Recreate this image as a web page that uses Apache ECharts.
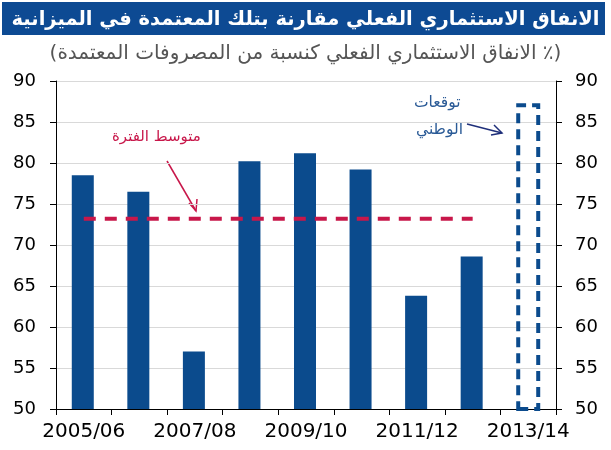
<!DOCTYPE html>
<html>
<head>
<meta charset="utf-8">
<script src="https://cdn.jsdelivr.net/npm/echarts@6/dist/echarts.min.js"></script>
<style>
  html,body{margin:0;padding:0;background:#fff}
  #chart{width:611px;height:450px}
</style>
</head>
<body>
<div id="chart"></div>
<script>
  // السنوات المالية
  var categories = ['2005/06','2006/07','2007/08','2008/09','2009/10','2010/11','2011/12','2012/13','2013/14']
  // الانفاق الفعلي كنسبة من المعتمد
  var actual = [78.5, 76.5, 57.0, 80.2, 81.2, 79.2, 63.8, 68.6, null]
  // توقعات الوطني
  var forecast = [null, null, null, null, null, null, null, null, 87.3]
  // متوسط الفترة
  var average = [73.2, 73.2, 73.2, 73.2, 73.2, 73.2, 73.2, 73.2, null]

  var blue = '#0b4b8d'
  var red = '#c8174a'
  var arabicFont = 'DejaVu Sans'

  var chart = echarts.init(document.getElementById('chart'))
  var option = {
    animation: false,
    title: [
      {
        text: 'الانفاق الاستثماري الفعلي مقارنة بتلك المعتمدة في الميزانية',
        left: 'center', top: 5,
        textStyle: {color: '#fff', fontSize: 19.5, fontWeight: 'bold', fontFamily: arabicFont}
      },
      {
        text: '(الانفاق الاستثماري الفعلي كنسبة من المصروفات المعتمدة ٪)',
        left: 'center', top: 39,
        textStyle: {color: '#555', fontSize: 20, fontWeight: 'normal', fontFamily: arabicFont}
      }
    ],
    graphic: [
      {type: 'rect', z: -1, shape: {x: 2, y: 2, width: 603, height: 33}, style: {fill: '#0d4a93'}},
      // متوسط الفترة
      {type: 'text', left: 112, top: 130, style: {text: 'متوسط الفترة', fill: red, fontSize: 15, fontFamily: arabicFont}},
      {type: 'polyline', shape: {points: [[167, 161], [196, 211]]}, style: {stroke: red, lineWidth: 1.5}},
      {type: 'polyline', shape: {points: [[189, 203], [196, 211], [197, 199]]}, style: {stroke: red, lineWidth: 1.5, fill: null}},
      // توقعات الوطني
      {type: 'text', left: 414, top: 95, style: {text: 'توقعات', fill: '#2a5a96', fontSize: 15.5, fontFamily: arabicFont}},
      {type: 'text', left: 416, top: 122, style: {text: 'الوطني', fill: '#2a5a96', fontSize: 15.5, fontFamily: arabicFont}},
      {type: 'polyline', shape: {points: [[467, 124], [502, 133]]}, style: {stroke: '#1f2f7a', lineWidth: 1.5}},
      {type: 'polyline', shape: {points: [[494, 125], [502, 133], [491, 135]]}, style: {stroke: '#1f2f7a', lineWidth: 1.5, fill: null}}
    ],
    grid: {left: 56, right: 55, top: 81, bottom: 41, containLabel: false},
    xAxis: {
      type: 'category',
      data: categories,
      axisLine: {lineStyle: {color: '#000', width: 1}},
      axisTick: {show: true, interval: 0, length: 6, lineStyle: {color: '#000'}},
      axisLabel: {interval: 1, color: '#000', fontSize: 20, fontFamily: 'DejaVu Sans', margin: 13}
    },
    yAxis: [
      {
        type: 'value', min: 50, max: 90, interval: 5, position: 'left',
        axisLine: {show: true, lineStyle: {color: '#000'}},
        axisTick: {show: true, length: 6, lineStyle: {color: '#000'}},
        axisLabel: {color: '#000', fontSize: 18, fontFamily: 'DejaVu Sans', margin: 20},
        splitLine: {show: true, lineStyle: {color: '#d9d9d9'}}
      },
      {
        type: 'value', min: 50, max: 90, interval: 5, position: 'right',
        axisLine: {show: true, lineStyle: {color: '#000'}},
        axisTick: {show: true, length: 6, lineStyle: {color: '#000'}},
        axisLabel: {color: '#000', fontSize: 18, fontFamily: 'DejaVu Sans', margin: 19},
        splitLine: {show: false}
      }
    ],
    series: [
      {
        name: 'actual', type: 'bar', data: actual, barWidth: 22, barGap: '-100%',
        itemStyle: {color: blue}
      },
      {
        name: 'forecast', type: 'bar', data: forecast, barWidth: 24,
        itemStyle: {color: 'rgba(0,0,0,0)', borderColor: blue, borderWidth: 4, borderType: [10, 6]}
      },
      {
        name: 'average', type: 'line', data: average, symbol: 'none', z: 5,
        lineStyle: {color: red, width: 4, type: [12, 9]}
      }
    ]
  }
  chart.setOption(option)
</script>
</body>
</html>
